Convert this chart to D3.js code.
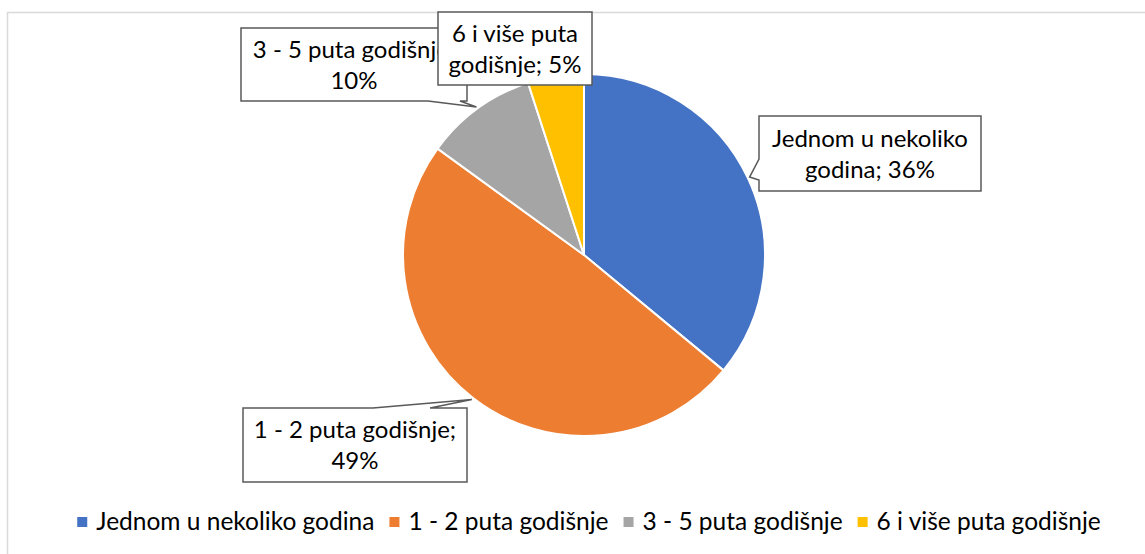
<!DOCTYPE html>
<html>
<head>
<meta charset="utf-8">
<script src="https://cdn.jsdelivr.net/npm/d3@7"></script>
<style>
  body { margin: 0; background: #fff; }
  text { font-family: Lato, "Open Sans", sans-serif; fill: #000; }
</style>
</head>
<body>
<svg width="1145" height="554"></svg>
<script>
  const categories = ['Jednom u nekoliko godina', '1 - 2 puta godišnje', '3 - 5 puta godišnje', '6 i više puta godišnje'];
  const shares = [36, 49, 10, 5];
  const labelLines = [
    ['Jednom u nekoliko', 'godina; 36%'],
    ['1 - 2 puta godišnje;', '49%'],
    ['3 - 5 puta godišnje;', '10%'],
    ['6 i više puta', 'godišnje; 5%']
  ];
  const colors = ['#4472c4', '#ed7d31', '#a5a5a5', '#ffc000'];

  const svg = d3.select('svg');
  const width = +svg.attr('width');
  const height = +svg.attr('height');

  // chart frame
  svg.append('rect')
    .attr('x', 7.5).attr('y', 12.5)
    .attr('width', width).attr('height', height)
    .attr('fill', '#fff')
    .attr('stroke', '#d9d9d9')
    .attr('stroke-width', 1.5);

  const cx = 584, cy = 255, radius = 181;

  const data = categories.map((c, i) => ({ name: c, value: shares[i], lines: labelLines[i], color: colors[i] }));

  const pie = d3.pie().sort(null).value(d => d.value);
  const arcs = pie(data);

  const arc = d3.arc().innerRadius(0).outerRadius(radius);
  const edgeArc = d3.arc().innerRadius(radius + 2).outerRadius(radius + 2);

  const g = svg.append('g').attr('transform', `translate(${cx},${cy})`);

  g.selectAll('path.slice')
    .data(arcs)
    .join('path')
      .attr('class', 'slice')
      .attr('d', arc)
      .attr('fill', d => d.data.color)
      .attr('stroke', '#fff')
      .attr('stroke-width', 2)
      .attr('stroke-linejoin', 'round');

  // callout boxes (Excel wedge callouts), placed by hand like the original
  const boxes = [
    { x: 759, y: 116, w: 222, h: 75, side: 'left', a: 159, b: 180 },
    { x: 243, y: 408, w: 224, h: 74, side: 'top', a: 373, b: 430 },
    { x: 241, y: 28, w: 226, h: 73, side: 'bottom', a: 428, b: 460 },
    { x: 438, y: 12, w: 154, h: 73, side: null }
  ];

  const calloutPath = (bx, tip) => {
    const { x, y, w, h, side, a, b } = bx;
    const x2 = x + w, y2 = y + h;
    const p = d3.path();
    p.moveTo(x, y);
    if (side === 'top') { p.lineTo(a, y); p.lineTo(tip[0], tip[1]); p.lineTo(b, y); }
    p.lineTo(x2, y);
    p.lineTo(x2, y2);
    if (side === 'bottom') { p.lineTo(b, y2); p.lineTo(tip[0], tip[1]); p.lineTo(a, y2); }
    p.lineTo(x, y2);
    if (side === 'left') { p.lineTo(x, b); p.lineTo(tip[0], tip[1]); p.lineTo(x, a); }
    p.closePath();
    return p.toString();
  };

  // gray is drawn before yellow so the yellow box covers its end, as in the original
  const labels = svg.append('g');
  arcs.forEach((d, i) => {
    const bx = boxes[i];
    const c = edgeArc.centroid(d);
    const tip = [cx + c[0], cy + c[1]];
    const lg = labels.append('g');
    lg.append('path')
      .attr('d', calloutPath(bx, tip))
      .attr('fill', '#fff')
      .attr('stroke', '#595959')
      .attr('stroke-width', 1.5)
      .attr('stroke-linejoin', 'miter');
    const mx = bx.x + bx.w / 2;
    const my = bx.y + bx.h / 2;
    lg.selectAll('text')
      .data(d.data.lines)
      .join('text')
        .attr('x', mx)
        .attr('y', (t, j) => my - 7 + j * 31)
        .attr('text-anchor', 'middle')
        .attr('font-size', 24)
        .text(t => t);
  });

  // legend
  const legend = svg.append('g').attr('transform', 'translate(0,530)');
  const items = legend.selectAll('g')
    .data(data)
    .join('g');
  items.append('rect')
    .attr('y', -13).attr('width', 10).attr('height', 10)
    .attr('fill', d => d.color);
  items.append('text')
    .attr('x', 19)
    .attr('font-size', 24.5)
    .text(d => d.name);

  let xPos = 0;
  const offsets = [];
  items.each(function () {
    const tw = d3.select(this).select('text').node().getComputedTextLength();
    offsets.push(xPos);
    xPos += 19 + tw + 15;
  });
  const total = xPos - 15;
  const start = 589 - total / 2;
  items.attr('transform', (d, i) => `translate(${start + offsets[i]},0)`);
</script>
</body>
</html>
